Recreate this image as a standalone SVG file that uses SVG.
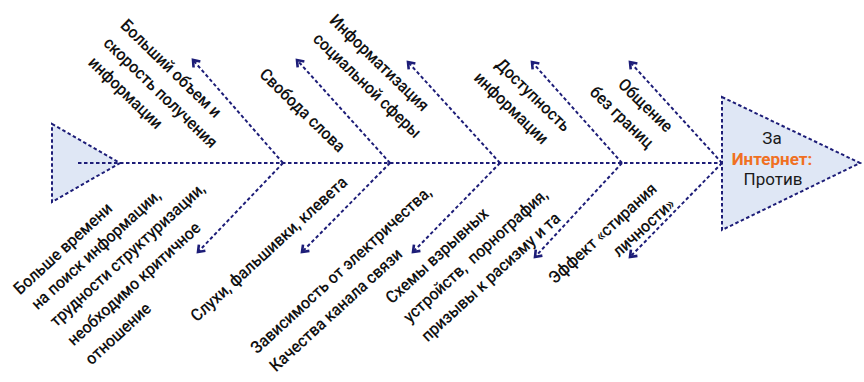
<svg xmlns="http://www.w3.org/2000/svg" width="864" height="382" viewBox="0 0 864 382">
<style>
.dash{fill:none;stroke:#1d1d78;stroke-width:2;stroke-dasharray:3.5 2.5}
.tri{fill:#dfe7f5;stroke:#1d1d78;stroke-width:2;stroke-dasharray:3.5 2.5}
.lbl{font-family:Roboto,"Liberation Sans",sans-serif;font-size:17px;font-weight:500;fill:#111111}
.ctr{font-family:Roboto,"Liberation Sans",sans-serif;font-size:17px;fill:#1a1a1a;text-anchor:middle}
.hl{fill:#f07022;font-weight:700}
</style>
<defs>
<marker id="ah" markerUnits="userSpaceOnUse" markerWidth="14" markerHeight="14" viewBox="-8 -7 14 14" refX="0" refY="0" orient="auto">
<path d="M-6,-4.5 L0,0 L-6,4.5" fill="none" stroke="#1d1d78" stroke-width="2.6"/>
</marker>
</defs>
<rect width="864" height="382" fill="#ffffff"/>
<g id="tail">
<polygon class="tri" points="52,124 120,163 52,202"/>
</g>
<g id="head">
<polygon class="tri" points="722,97 860,163 722,230"/>
<text class="ctr" x="772" y="144">За</text>
<text class="ctr hl" x="772" y="165">Интернет:</text>
<text class="ctr" x="773" y="185">Против</text>
</g>
<g id="connectors">
<path class="dash" d="M78,163 H722"/>
<path class="dash" marker-end="url(#ah)" d="M283,163 L193,60"/>
<path class="dash" marker-end="url(#ah)" d="M390,163 L297,60"/>
<path class="dash" marker-end="url(#ah)" d="M500,163 L408,62"/>
<path class="dash" marker-end="url(#ah)" d="M622,163 L532,62"/>
<path class="dash" marker-end="url(#ah)" d="M722,163 L630,62"/>
<path class="dash" marker-end="url(#ah)" d="M283,163 L198,252"/>
<path class="dash" marker-end="url(#ah)" d="M390,163 L302,252"/>
<path class="dash" marker-end="url(#ah)" d="M500,163 L413,252"/>
<path class="dash" marker-end="url(#ah)" d="M622,163 L535,257"/>
<path class="dash" marker-end="url(#ah)" d="M722,163 L630,257"/>
</g>
<g id="pro-volume">
<text class="lbl" transform="translate(119.4,26.6) rotate(44) scale(0.93,1)"><tspan x="0" y="0">Больший объем и</tspan><tspan x="0" y="24.5">скорость получения</tspan><tspan x="3" y="49">информации</tspan></text>
</g>
<g id="pro-speech">
<text class="lbl" transform="translate(258.4,75.6) rotate(44) scale(0.93,1)">Свобода слова</text>
</g>
<g id="pro-social">
<text class="lbl" transform="translate(328.4,21.6) rotate(44) scale(0.93,1)"><tspan x="0" y="0">Информатизация</tspan><tspan x="1" y="24.6">социальной сферы</tspan></text>
</g>
<g id="pro-access">
<text class="lbl" transform="translate(494.4,65.6) rotate(44) scale(0.93,1)"><tspan x="0" y="0">Доступность</tspan><tspan x="-6.5" y="24.5">информации</tspan></text>
</g>
<g id="pro-borders">
<text class="lbl" transform="translate(616.9,85.6) rotate(44) scale(0.93,1)"><tspan x="0" y="0">Общение</tspan><tspan x="-16" y="25">без границ</tspan></text>
</g>
<g id="con-time">
<text class="lbl" transform="translate(20.1,295.5) rotate(-42.5) scale(0.93,1)"><tspan x="0" y="0">Больше времени</tspan><tspan x="3" y="23">на поиск информации,</tspan><tspan x="5.5" y="48">трудности структуризации,</tspan><tspan x="5.5" y="74">необходимо критичное</tspan><tspan x="5.5" y="100">отношение</tspan></text>
</g>
<g id="con-rumors">
<text class="lbl" transform="translate(197.1,322.5) rotate(-42.5) scale(0.93,1)">Слухи, фальшивки, клевета</text>
</g>
<g id="con-power">
<text class="lbl" transform="translate(257.1,354.5) rotate(-42.5) scale(0.93,1)"><tspan x="0" y="0">Зависимость от электричества,</tspan><tspan x="2" y="26">Качества канала связи</tspan></text>
</g>
<g id="con-harm">
<text class="lbl" transform="translate(392.1,304.5) rotate(-42.5) scale(0.93,1)"><tspan x="0" y="0">Схемы взрывных</tspan><tspan x="0" y="26">устройств,&#160; порнография,</tspan><tspan x="0.6" y="52">призывы к расизму и та</tspan></text>
</g>
<g id="con-identity">
<text class="lbl" transform="translate(555.1,284.5) rotate(-42.5) scale(0.93,1)"><tspan x="0" y="0">Эффект «стирания</tspan><tspan x="70" y="23.5">личности»</tspan></text>
</g>
</svg>
